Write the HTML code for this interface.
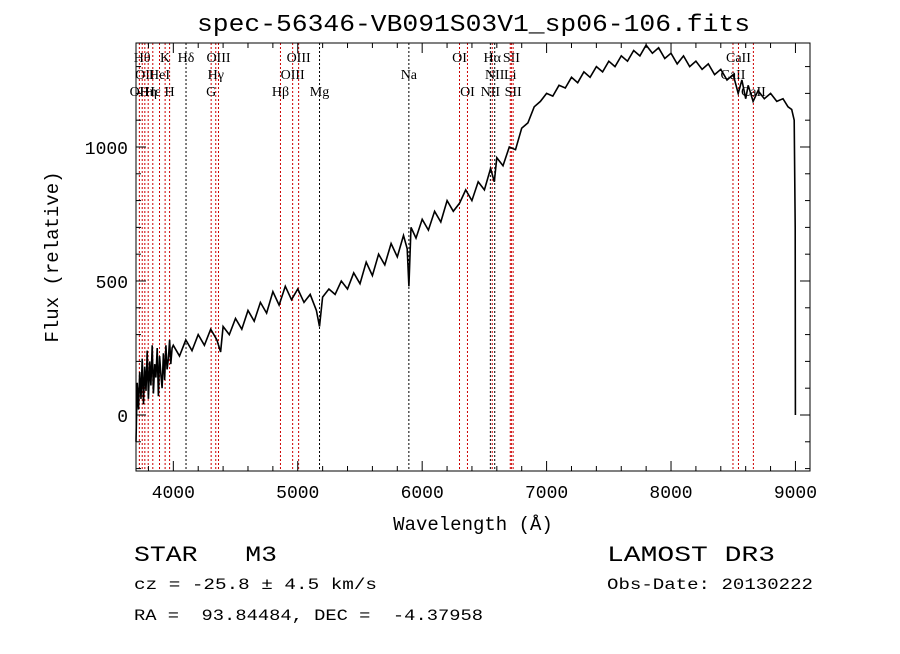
<!DOCTYPE html>
<html><head><meta charset="utf-8"><style>
body{margin:0;background:#fff;width:900px;height:649px;overflow:hidden}
svg{font-family:"Liberation Mono",monospace}
text{white-space:pre}
</style></head><body>
<svg id="c" width="900" height="649" xmlns="http://www.w3.org/2000/svg">
<text x="197" y="31" font-size="24" textLength="553" lengthAdjust="spacingAndGlyphs">spec-56346-VB091S03V1_sp06-106.fits</text>
<text x="473" y="530" text-anchor="middle" font-size="19">Wavelength (Å)</text>
<text transform="translate(58,257) rotate(-90)" text-anchor="middle" font-size="19">Flux (relative)</text>
<text x="134" y="561" font-size="22" xml:space="preserve" textLength="143" lengthAdjust="spacingAndGlyphs">STAR   M3</text>
<text x="607" y="561" font-size="22" textLength="168" lengthAdjust="spacingAndGlyphs">LAMOST DR3</text>
<text x="134" y="589" font-size="16" textLength="243" lengthAdjust="spacingAndGlyphs">cz = -25.8 ± 4.5 km/s</text>
<text x="607" y="589" font-size="16" textLength="206" lengthAdjust="spacingAndGlyphs">Obs-Date: 20130222</text>
<text x="134" y="620" font-size="16" xml:space="preserve" textLength="349" lengthAdjust="spacingAndGlyphs">RA =  93.84484, DEC =  -4.37958</text>
<g id="plot"></g>
</svg>
<script>
const wavelengths=[3700,3710,3720,3730,3740,3750,3760,3770,3780,3790,3800,3810,3820,3830,3840,3850,3860,3870,3880,3890,3900,3910,3920,3930,3940,3950,3960,3970,3980,3990,4000,4050,4100,4150,4200,4250,4300,4350,4380,4400,4450,4500,4550,4600,4650,4700,4750,4800,4850,4900,4950,5000,5050,5100,5150,5175,5200,5250,5300,5350,5400,5450,5500,5550,5600,5650,5700,5750,5800,5850,5880,5893,5910,5950,6000,6050,6100,6150,6200,6250,6300,6350,6400,6450,6500,6550,6580,6600,6650,6700,6750,6800,6850,6900,6950,7000,7050,7100,7150,7200,7250,7300,7350,7400,7450,7500,7550,7600,7650,7700,7750,7800,7850,7900,7950,8000,8050,8100,8150,8200,8250,8300,8350,8400,8450,8500,8540,8570,8600,8620,8660,8700,8750,8800,8850,8900,8940,8970,8990,8998,9000];
const fluxes=[-100,120,20,160,60,210,40,180,90,240,60,200,110,260,80,190,140,250,70,220,150,100,230,130,260,170,210,280,190,250,260,220,280,240,300,260,320,280,235,330,300,360,320,390,350,420,380,460,410,480,430,470,420,450,390,330,440,470,450,500,470,530,490,570,520,600,560,640,590,670,620,480,700,660,730,690,760,720,800,760,790,840,800,870,840,920,870,960,930,1000,990,1070,1090,1150,1170,1200,1190,1230,1220,1260,1240,1280,1260,1300,1280,1320,1300,1340,1320,1360,1340,1380,1350,1370,1330,1350,1310,1340,1300,1320,1290,1310,1270,1290,1250,1270,1200,1250,1180,1230,1170,1210,1180,1200,1170,1180,1150,1140,1100,700,0];
const xTicks=[4000,5000,6000,7000,8000,9000];
const yTicks=[0,500,1000];
const lineWaves=[3727,3750,3771,3798,3835,3889,3934,3970,4102,4304,4341,4363,4861,4959,5007,5175,5893,6300,6364,6548,6563,6583,6708,6717,6731,8498,8542,8662];
const lineLabels=["OII","Hθ","OII","Hη","Hε","HeI","K","H","Hδ","G","Hγ","OIII","Hβ","OIII","OIII","Mg","Na","OI","OI","NII","Hα","NII","Li","SII","SII","CaII","CaII","CaII"];
const lineRows=[2,0,1,2,2,1,0,2,0,2,1,0,2,1,0,2,1,0,2,2,0,1,1,0,2,1,0,2];
const lineBlack=[0,0,0,0,0,0,0,0,1,0,0,0,0,0,0,1,1,0,0,1,0,1,0,0,0,0,0,0];
const X0=136,X1=810,Y0=43,Y1=471;
const xmin=3700,xmax=9117,ymin=-209,ymax=1388;
const sx=w=>X0+(w-xmin)/(xmax-xmin)*(X1-X0);
const sy=f=>Y1-(f-ymin)/(ymax-ymin)*(Y1-Y0);
const g=document.getElementById('plot');const NS='http://www.w3.org/2000/svg';
function mk(t,a){const e=document.createElementNS(NS,t);for(const k in a)e.setAttribute(k,a[k]);g.appendChild(e);return e;}
lineWaves.forEach((w,i)=>{const x=sx(w);
const l=mk('line',{x1:x,x2:x,y1:Y0,y2:Y1,stroke:lineBlack[i]?'#000':'#c00','stroke-width':1,'stroke-dasharray':'2,2'});


const t=mk('text',{x:x,y:62+lineRows[i]*17,'text-anchor':'middle','font-size':14,'font-family':'Liberation Serif,serif'});
t.textContent=lineLabels[i];

});
let d='';wavelengths.forEach((w,i)=>{d+=(i?'L':'M')+sx(w).toFixed(1)+','+sy(fluxes[i]).toFixed(1);});
const p=mk('path',{d:d,fill:'none',stroke:'#000','stroke-width':1.6});


const fr=mk('rect',{x:X0,y:Y0,width:X1-X0,height:Y1-Y0,fill:'none',stroke:'#000','stroke-width':1});


for(let w=3800;w<xmax;w+=200){const x=sx(w),L=(w%1000==0)?10:5;
mk('line',{x1:x,x2:x,y1:Y1,y2:Y1-L,stroke:'#000'});mk('line',{x1:x,x2:x,y1:Y0,y2:Y0+L,stroke:'#000'});}
xTicks.forEach(w=>{const t=mk('text',{x:sx(w),y:Y1+27,'text-anchor':'middle','font-size':18});t.textContent=w;

});
for(let f=-200;f<ymax;f+=100){const y=sy(f),L=(f%500==0)?10:5;
mk('line',{x1:X0,x2:X0+L,y1:y,y2:y,stroke:'#000'});mk('line',{x1:X1,x2:X1-L,y1:y,y2:y,stroke:'#000'});}
yTicks.forEach(f=>{const t=mk('text',{x:X0-8,y:sy(f)+7,'text-anchor':'end','font-size':18});t.textContent=f;

});
</script>
</body></html>
